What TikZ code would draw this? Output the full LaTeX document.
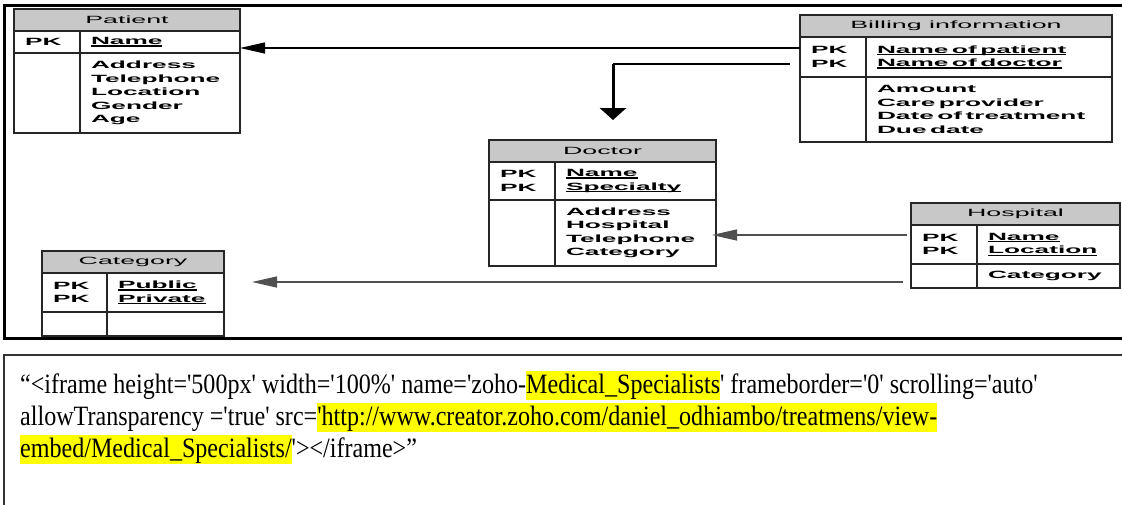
\documentclass[tikz,border=0pt]{standalone}
\usepackage{xcolor}
\usepackage{fontspec}
\usetikzlibrary{arrows.meta}

\newfontfamily\erfont[FakeStretch=2.55]{Liberation Sans}
\newfontfamily\erbold[FakeStretch=2.5]{Liberation Sans Bold}
\newfontfamily\htmlfont[FakeStretch=0.86]{Liberation Serif}
\newcommand{\ersize}{\fontsize{10.5pt}{13.5pt}\selectfont}
\newcommand{\htmlsize}{\htmlfont\fontsize{28pt}{32pt}\selectfont}

\definecolor{headgray}{RGB}{200,200,200}
\definecolor{linkgray}{RGB}{80,80,80}
\definecolor{hlyellow}{RGB}{255,255,0}

\newsavebox{\pkbox}
\newcommand{\pkname}[1]{\leavevmode\sbox{\pkbox}{#1}\rlap{\rule[-2pt]{\wd\pkbox}{1.3pt}}\usebox{\pkbox}}
\newcommand{\hlt}[1]{{\setlength{\fboxsep}{0pt}\colorbox{hlyellow}{\rule[-7pt]{0pt}{29pt}#1}}}

\begin{document}
\begin{tikzpicture}[x=1pt, y=-1pt,
    title/.style={draw=black!85, line width=1.2pt, fill=headgray, anchor=north west,
                  minimum height=22pt, inner sep=0pt, outer sep=0pt, font=\erfont\ersize},
    cell/.style={draw=black!85, line width=1.2pt, anchor=north west, inner sep=0pt,
                 inner xsep=11pt, outer sep=0pt, align=left, font=\erbold\ersize},
    link/.style={line width=1.2pt, -{Triangle[length=25pt, width=11pt]}},
    graylink/.style={link, draw=linkgray},
    downlink/.style={line width=3pt, -{Triangle[length=12pt, width=26pt]}}]
    \useasboundingbox (0,0) rectangle (1122,504);

    % frames
    \draw[line width=3pt] (1140,5) -- (4,5) -- (4,338) -- (1140,338);
    \draw[line width=1.5pt, draw=black!80] (1140,355) -- (4,355) -- (4,520);

    % Patient
    \node (patTitle) at (14,9) [title, minimum width=226pt] {Patient};
    \node (patKey) at (patTitle.south west) [cell, text width=44pt, minimum height=22pt] {PK};
    \node (patKeyAttr) at (patKey.north east) [cell, text width=138pt, minimum height=22pt] {\pkname{Name}};
    \node (patAttrKey) at (patKey.south west) [cell, text width=44pt, minimum height=80pt] {};
    \node (patAttr) at (patAttrKey.north east) [cell, text width=138pt, minimum height=80pt]
        {Address\\Telephone\\Location\\Gender\\Age};

    % Billing information
    \node (billTitle) at (800,15) [title, minimum width=312pt] {Billing information};
    \node (billKey) at (billTitle.south west) [cell, text width=44pt, minimum height=40pt] {PK\\PK};
    \node (billKeyAttr) at (billKey.north east) [cell, text width=224pt, minimum height=40pt]
        {\pkname{Name of patient}\\\pkname{Name of doctor}};
    \node (billAttrKey) at (billKey.south west) [cell, text width=44pt, minimum height=65pt] {};
    \node (billAttr) at (billAttrKey.north east) [cell, text width=224pt, minimum height=65pt]
        {Amount\\Care provider\\Date of treatment\\Due date};

    % Doctor
    \node (docTitle) at (489,140) [title, minimum width=227pt] {Doctor};
    \node (docKey) at (docTitle.south west) [cell, text width=44pt, minimum height=38pt] {PK\\PK};
    \node (docKeyAttr) at (docKey.north east) [cell, text width=139pt, minimum height=38pt]
        {\pkname{Name}\\\pkname{Specialty}};
    \node (docAttrKey) at (docKey.south west) [cell, text width=44pt, minimum height=66pt] {};
    \node (docAttr) at (docAttrKey.north east) [cell, text width=139pt, minimum height=66pt]
        {Address\\Hospital\\Telephone\\Category};

    % Hospital
    \node (hospTitle) at (911,203) [title, minimum width=209pt] {Hospital};
    \node (hospKey) at (hospTitle.south west) [cell, text width=44pt, minimum height=39pt] {PK\\PK};
    \node (hospKeyAttr) at (hospKey.north east) [cell, text width=121pt, minimum height=39pt]
        {\pkname{Name}\\\pkname{Location}};
    \node (hospAttrKey) at (hospKey.south west) [cell, text width=44pt, minimum height=24pt] {};
    \node (hospAttr) at (hospAttrKey.north east) [cell, text width=121pt, minimum height=24pt] {Category};

    % Category
    \node (catTitle) at (42,251) [title, minimum width=182pt] {Category};
    \node (catKey) at (catTitle.south west) [cell, text width=43pt, minimum height=39pt] {PK\\PK};
    \node (catKeyAttr) at (catKey.north east) [cell, text width=95pt, minimum height=39pt]
        {\pkname{Public}\\\pkname{Private}};
    \node (catAttrKey) at (catKey.south west) [cell, text width=43pt, minimum height=24pt] {};
    \node (catAttr) at (catAttrKey.north east) [cell, text width=95pt, minimum height=24pt] {};

    % relations
    \coordinate (docBend) at (613,64);
    \coordinate (docArrow) at (613,120);
    \coordinate (catArrow) at (252,282);
    \draw[link] ([yshift=9pt]billKey.west) -- ([yshift=9pt]billKey.west -| patKeyAttr.east);
    \draw[line width=1.2pt] ([xshift=-10pt, yshift=-7pt]billKey.west) -- (docBend);
    \draw[downlink] (docBend) -- (docArrow);
    \draw[graylink] ([xshift=-4pt, yshift=9.5pt]hospKey.west) -- ([xshift=-4pt, yshift=9.5pt]hospKey.west -| docAttr.east);
    \draw[graylink] ([xshift=-8pt, yshift=-6pt]hospAttrKey.west) -- (catArrow);

    % embed code
    \node (code) at (20,457) [anchor=base west, align=left, inner sep=0pt, font=\htmlsize]
        {“<iframe height='500px' width='100\%' name='zoho-\hlt{Medical\_Specialists}' frameborder='0' scrolling='auto'\\
         allowTransparency ='true' src=\hlt{'http://www.creator.zoho.com/daniel\_odhiambo/treatmens/view-}\\
         \hlt{embed/Medical\_Specialists/}'></iframe>”};
\end{tikzpicture}
\end{document}
